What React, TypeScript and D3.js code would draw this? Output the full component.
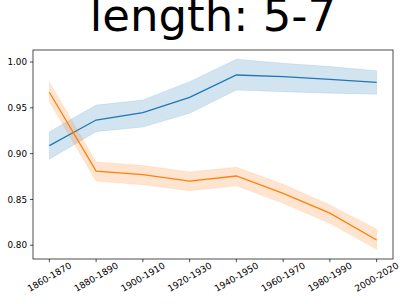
import React from "react";
import * as d3 from "d3";

const periods = [
  "1860-1870", "1880-1890", "1900-1910", "1920-1930",
  "1940-1950", "1960-1970", "1980-1990", "2000-2020",
];

const blueMean = [0.9087, 0.9367, 0.9447, 0.9615, 0.9858, 0.984, 0.981, 0.9778];
const blueLow = [0.894, 0.924, 0.929, 0.944, 0.9694, 0.9676, 0.966, 0.9648];
const blueHigh = [0.924, 0.953, 0.9585, 0.9785, 1.003, 0.9986, 0.995, 0.9905];

const orangeMean = [0.967, 0.881, 0.877, 0.870, 0.8756, 0.8567, 0.835, 0.8058];
const orangeLow = [0.9567, 0.870, 0.866, 0.8596, 0.865, 0.8458, 0.824, 0.7956];
const orangeHigh = [0.978, 0.891, 0.887, 0.880, 0.8851, 0.8666, 0.844, 0.8175];

const yTicks = [0.8, 0.85, 0.9, 0.95, 1.0];

const W = 407;
const H = 304;
const left = 33;
const right = 393;
const top = 50;
const bottom = 259;

const series = [
  { color: "#1f77b4", mean: blueMean, low: blueLow, high: blueHigh },
  { color: "#ff7f0e", mean: orangeMean, low: orangeLow, high: orangeHigh },
];

export default function App() {
  const x = d3.scaleLinear().domain([-0.35, periods.length - 1 + 0.35]).range([left, right]);
  const y = d3.scaleLinear().domain([0.785, 1.0131]).range([bottom, top]);

  const font = "DejaVu Sans, sans-serif";
  const angle = 30;

  return (
    <svg width={W} height={H} style={{ position: "absolute", left: 0, top: 0 }}>
      <rect width={W} height={H} fill="#fff" />
      {series.map((s, k) => {
        const area = d3
          .area<number>()
          .x((_, i) => x(i))
          .y0((_, i) => y(s.low[i]))
          .y1((_, i) => y(s.high[i]));
        const line = d3
          .line<number>()
          .x((_, i) => x(i))
          .y((d) => y(d));
        return (
          <g key={k}>
            <path d={area(s.mean) || ""} fill={s.color} fillOpacity={0.2} stroke={s.color} strokeOpacity={0.2} strokeWidth={0.6} />
            <path d={line(s.mean) || ""} fill="none" stroke={s.color} strokeWidth={1.3} />
          </g>
        );
      })}
      <rect x={left} y={top} width={right - left} height={bottom - top} fill="none" stroke="#000" strokeWidth={0.7} />
      {yTicks.map((t) => (
        <g key={t} transform={`translate(${left},${y(t)})`}>
          <line x1={-3.1} x2={0} stroke="#000" strokeWidth={0.7} />
          <text x={-6} dy="0.35em" textAnchor="end" fontFamily={font} fontSize={8.8} fill="#000">
            {t.toFixed(2)}
          </text>
        </g>
      ))}
      {periods.map((p, i) => (
        <g key={p}>
          <line x1={x(i)} x2={x(i)} y1={bottom} y2={bottom + 3.1} stroke="#000" strokeWidth={0.7} />
          <text
            transform={`translate(${x(i)},${277}) rotate(${-angle})`}
            textAnchor="middle"
            dy="0.35em"
            fontFamily={font}
            fontSize={9}
            fill="#000"
          >
            {p}
          </text>
        </g>
      ))}
      <text x={(left + right) / 2} y={31} textAnchor="middle" fontFamily={font} fontSize={45} fill="#000">
        length: 5-7
      </text>
    </svg>
  );
}
